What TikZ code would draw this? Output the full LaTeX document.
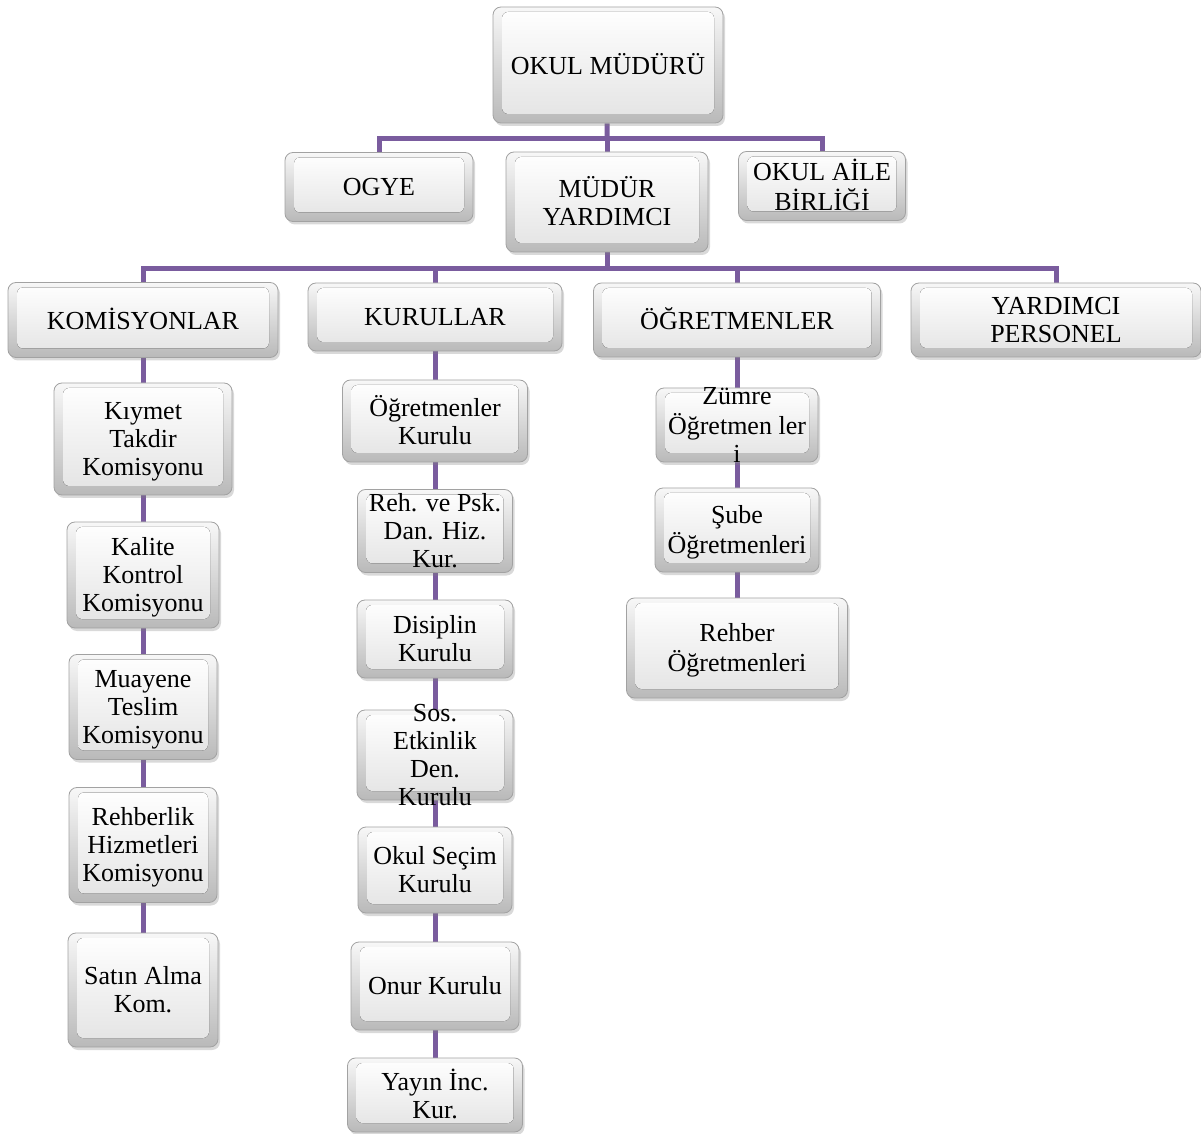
\documentclass[tikz,border=0pt]{standalone}
\usepackage{fontspec}
\setmainfont{Liberation Serif}
\usetikzlibrary{shadows, backgrounds}
\definecolor{linkpurple}{HTML}{7A5C9E}
\definecolor{boxborder}{HTML}{A2A2A2}
\newcommand{\boxtxt}[1]{\vbox to 0pt{\vss\hbox{\begin{tabular}{@{}c@{}}#1\end{tabular}}\vss\kern-3pt}}

\begin{document}
\begin{tikzpicture}[x=0.5pt, y=-0.5pt,
    orgbox/.style={
      draw=boxborder, line width=0.4pt,
      rounded corners=4pt, inner sep=0pt,
      top color=gray!6, bottom color=gray!55,
      drop shadow={shadow xshift=1pt, shadow yshift=-1.5pt, opacity=0.3},
      path picture={
        \fill[rounded corners=3pt, top color=white, bottom color=gray!22]
          ([xshift=4.5pt, yshift=-2.5pt]path picture bounding box.north west)
          rectangle ([xshift=-4.5pt, yshift=4.5pt]path picture bounding box.south east);
      },
      font=\fontsize{13}{14}\selectfont
    },
    wh/.style 2 args={minimum width=#1, minimum height=#2},
    link/.style={draw=linkpurple, line width=2.5pt}
  ]
  \useasboundingbox (0,0) rectangle (1201,1134);

  % top levels
  \node[orgbox, wh={115pt}{58pt}] (mudur) at (608,65) {\boxtxt{OKUL MÜDÜRÜ}};
  \node[orgbox, wh={94pt}{34.5pt}] (ogye) at (379,187) {\boxtxt{OGYE}};
  \node[orgbox, wh={101pt}{50pt}] (myard) at (607,202) {\boxtxt{MÜDÜR\\YARDIMCI}};
  \node[orgbox, wh={83.5pt}{34.5pt}] (aile) at (822,186) {\boxtxt{OKUL AİLE\\BİRLİĞİ}};

  \node[orgbox, wh={135pt}{37.5pt}] (komis) at (143,320) {\boxtxt{KOMİSYONLAR}};
  \node[orgbox, wh={127pt}{34pt}] (kurul) at (435,317) {\boxtxt{KURULLAR}};
  \node[orgbox, wh={143.5pt}{37pt}] (ogret) at (737,320) {\boxtxt{ÖĞRETMENLER}};
  \node[orgbox, wh={145pt}{37pt}] (ypers) at (1056,320) {\boxtxt{YARDIMCI\\PERSONEL}};

  % komisyonlar
  \node[orgbox, wh={89pt}{56pt}] (kiymet) at (143,439) {\boxtxt{Kıymet\\Takdir\\Komisyonu}};
  \node[orgbox, wh={76pt}{53pt}] (kalite) at (143,575) {\boxtxt{Kalite\\Kontrol\\Komisyonu}};
  \node[orgbox, wh={74pt}{52.5pt}] (muayene) at (143,707) {\boxtxt{Muayene\\Teslim\\Komisyonu}};
  \node[orgbox, wh={74pt}{57.5pt}] (rehberlik) at (143,845) {\boxtxt{Rehberlik\\Hizmetleri\\Komisyonu}};
  \node[orgbox, wh={75pt}{57pt}] (satin) at (143,990) {\boxtxt{Satın Alma\\Kom.}};

  % kurullar
  \node[orgbox, wh={92.5pt}{41pt}] (ogkurul) at (435,421) {\boxtxt{Öğretmenler\\Kurulu}};
  \node[orgbox, wh={77.5pt}{41.5pt}] (rehpsk) at (435,531) {\boxtxt{Reh. ve Psk.\\Dan. Hiz.\\Kur.}};
  \node[orgbox, wh={78pt}{39pt}] (disiplin) at (435,639) {\boxtxt{Disiplin\\Kurulu}};
  \node[orgbox, wh={78pt}{45pt}] (sosyal) at (435,755) {\boxtxt{Sos.\\Etkinlik\\Den.\\Kurulu}};
  \node[orgbox, wh={77pt}{43pt}] (secim) at (435,870) {\boxtxt{Okul Seçim\\Kurulu}};
  \node[orgbox, wh={84pt}{44pt}] (onur) at (435,986) {\boxtxt{Onur Kurulu}};
  \node[orgbox, wh={87.5pt}{37pt}] (yayin) at (435,1095) {\boxtxt{Yayın İnc.\\Kur.}};

  % ogretmenler
  \node[orgbox, wh={81pt}{37pt}] (zumre) at (737,425) {\boxtxt{Zümre\\Öğretmen ler\\i}};
  \node[orgbox, wh={82pt}{42pt}] (sube) at (737,530) {\boxtxt{Şube\\Öğretmenleri}};
  \node[orgbox, wh={110.5pt}{50pt}] (rehber) at (737,648) {\boxtxt{Rehber\\Öğretmenleri}};

  \begin{scope}[on background layer]
    \coordinate (bar1) at (607,139);
    \coordinate (bar2) at (607,269);
    \draw[link] (mudur) -- (bar1);
    \draw[link] (ogye.north) |- (bar1) -| (aile.north);
    \draw[link] (bar1) -- (myard);
    \draw[link] (myard) -- (bar2);
    \draw[link] (komis.north) |- (bar2) -| (ypers.north);
    \draw[link] (kurul.north) -- (kurul.north |- bar2);
    \draw[link] (ogret.north) -- (ogret.north |- bar2);
    \foreach \a/\b in {komis/kiymet, kiymet/kalite, kalite/muayene, muayene/rehberlik,
        rehberlik/satin, kurul/ogkurul, ogkurul/rehpsk, rehpsk/disiplin, disiplin/sosyal,
        sosyal/secim, secim/onur, onur/yayin, ogret/zumre, zumre/sube, sube/rehber}
      \draw[link] (\a) -- (\b);
  \end{scope}
\end{tikzpicture}
\end{document}
